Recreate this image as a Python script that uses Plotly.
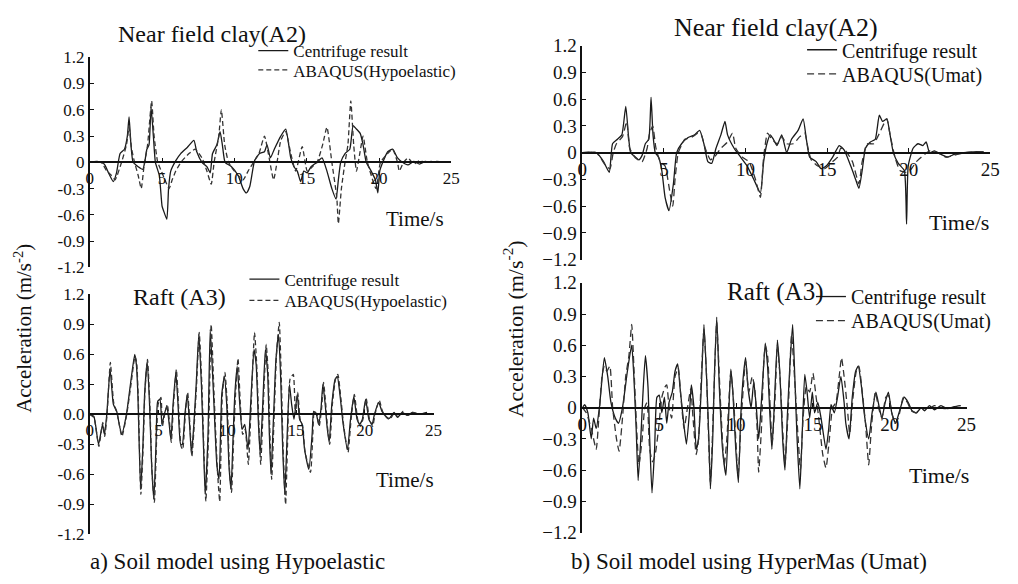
import plotly.graph_objects as go

W, H = 1018, 584
FONT = "Liberation Serif"

# ---------------- data (time s, acceleration m/s^2) ----------------
# a) top: Near field clay (A2) – centrifuge vs ABAQUS(Hypoelastic)
a_top_cent_t = [0, 0.5, 1.0, 1.3, 1.63, 1.85, 2.1, 2.4, 2.6, 2.72, 2.85, 3.0, 3.35, 3.67, 3.8, 3.95, 4.1, 4.24, 4.4, 4.54,
                4.81, 5.0, 5.1, 5.33, 5.45, 5.6, 5.95, 6.29, 6.74, 7.2, 7.4, 7.76, 8.1, 8.33, 8.49, 8.79, 9.01, 9.17, 9.36,
                9.8, 10.26, 10.6, 10.83, 11.06, 11.4, 11.74, 12.08, 12.26, 12.49, 12.76, 13.21, 13.55, 13.9, 14.12, 14.35,
                14.58, 14.8, 15.04, 15.3, 15.72, 16.06, 16.4, 16.74, 17.03, 17.19, 17.35, 17.65, 17.98, 18.21, 18.44, 18.7,
                18.9, 19.12, 19.46, 19.75, 19.92, 20.05, 20.26, 20.6, 20.94, 21.28, 21.62, 22.0, 22.4, 22.8, 23.2, 23.6,
                24.0, 24.5]
a_top_cent_v = [0, 0.01, -0.02, -0.12, -0.22, -0.12, 0.1, 0.15, 0.3, 0.52, 0.2, 0, -0.05, -0.08, 0, 0.15, 0.2, 0.63, 0.3, 0,
                -0.15, -0.5, -0.55, -0.65, -0.3, -0.1, 0.02, 0.1, 0.17, 0.25, 0.12, 0, -0.05, -0.12, 0.1, 0.2, 0.35, 0.2, 0,
                -0.05, -0.15, -0.3, -0.35, -0.28, 0.02, 0.1, 0.12, 0.2, 0.05, 0.15, 0.3, 0.38, 0.05, -0.05, -0.1,
                -0.22, -0.1, -0.12, -0.05, 0, 0.05, -0.1, -0.3, -0.42, -0.2, 0, 0.1, 0.15, 0.42, 0.38, 0.33,
                0.2, 0, -0.1, -0.2, -0.35, -0.1, 0, 0.12, 0.15, 0.05, 0, -0.03, 0.01, -0.02, 0.01, 0.0,
                0.01, 0.0]
a_top_hypo_t = [0, 0.8, 1.18, 1.5, 1.75, 2.2, 2.54, 2.72, 2.9, 3.1, 3.35, 3.56, 3.75, 4.0, 4.28, 4.45, 4.7, 4.95, 5.2, 5.49,
                5.7, 5.95, 6.3, 6.86, 7.3, 7.76, 8.1, 8.4, 8.6, 8.92, 9.1, 9.33, 9.6, 10.0, 10.6, 10.95, 11.33, 11.7, 12.08,
                12.35, 12.71, 12.95, 13.21, 13.55, 13.9, 14.24, 14.69, 15.04, 15.4, 15.72, 16.1, 16.4, 16.74, 17.08, 17.19,
                17.4, 17.65, 17.85, 18.05, 18.25, 18.44, 18.67, 18.9, 19.2, 19.8, 20.1, 20.6, 20.94, 21.28, 21.4, 21.7,
                22.0, 22.4, 22.8, 23.2, 23.6, 24.0, 24.5]
a_top_hypo_v = [0, 0.0, -0.1, -0.15, -0.2, 0, 0.2, 0.4, 0.15, 0, -0.15, -0.3, -0.05, 0.2, 0.7, 0.3, 0, -0.1, -0.2, -0.3,
                -0.2, -0.1, 0, 0.1, 0.15, 0.05, -0.1, -0.25, 0, 0.3, 0.6, 0.2, 0, -0.1, -0.2, -0.1, 0, 0.1, 0.3,
                0.1, -0.2, 0, 0.25, 0.35, 0.1, -0.1, 0.18, -0.1, -0.05, 0, 0.2, 0.4, 0, -0.4, -0.7,
                -0.3, 0, 0.2, 0.7, 0.2, -0.1, 0.1, 0.3, 0, -0.3, 0, 0.1, 0.15, 0, -0.1, 0,
                0.05, -0.02, 0.02, 0, 0.01, 0, 0.01]

# a) bottom: Raft (A3) – centrifuge vs ABAQUS(Hypoelastic)
a_bot_cent_t = [0, 0.3, 0.64, 0.93, 1.07, 1.24, 1.48, 1.72, 1.96, 2.32, 2.67, 2.96, 3.27, 3.39, 3.5, 3.7, 3.87, 3.99, 4.18,
                4.35, 4.5, 4.66, 4.82, 4.94, 5.11, 5.25, 5.42, 5.61, 5.78, 5.9, 6.06, 6.26, 6.42, 6.61, 6.73, 6.92, 7.09,
                7.26, 7.4, 7.57, 7.74, 7.93, 8.12, 8.29, 8.4, 8.6, 8.76, 9.0, 9.24, 9.4, 9.6, 9.79, 9.96, 10.12, 10.27,
                10.43, 10.55, 10.72, 10.91, 11.08, 11.27, 11.51, 11.7, 11.94, 12.1, 12.27, 12.39, 12.58, 12.77, 12.94,
                13.06, 13.18, 13.37, 13.54, 13.73, 13.9, 14.02, 14.18, 14.33, 14.52, 14.68, 14.85, 15.09, 15.26, 15.45,
                15.62, 15.93, 16.17, 16.28, 16.48, 16.64, 16.81, 16.95, 17.12, 17.24, 17.41, 17.6, 17.84, 18.0, 18.19,
                18.43, 18.74, 18.96, 19.2, 19.44, 19.63, 19.82, 20.06, 20.3, 20.53, 20.7, 21.01, 21.25, 21.54, 21.78,
                22.13, 22.37, 22.73, 23.09, 23.45, 23.93, 24.52]
a_bot_cent_v = [0, -0.02, -0.3, -0.1, -0.2, 0, 0.45, 0.1, 0.03, -0.2, 0, 0.3, 0.6, 0.5, 0.2, -0.75, -0.3, 0.2, 0.53,
                0.1, -0.5, -0.85, -0.3, 0.13, 0.15, -0.1, 0, 0.08, -0.1, -0.25, 0.1, 0.42, 0.1, -0.3, -0.3, 0.0, 0.2,
                -0.1, -0.4, -0.1, 0.3, 0.8, 0.3, -0.4, -0.8, -0.2, 0.85, 0.2, -0.5, -0.65, 0.2, 0.38, 0.1, -0.5, -0.75,
                -0.2, 0.2, 0.48, 0.1, -0.15, -0.1, -0.35, 0.1, 0.65, 0.5, -0.1, -0.4, 0.1, 0.65, 0.4,
                -0.2, -0.6, 0.0, 0.55, 0.8, 0.3, -0.3, -0.8, -0.3, 0.3, 0.1, -0.05, 0.2, -0.05, -0.1,
                -0.35, -0.55, -0.2, 0.03, 0, -0.1, 0.05, 0.3, 0.1, -0.1, -0.28, 0.1, 0.35, 0.38, 0.2,
                -0.1, -0.35, -0.05, 0.18, -0.05, -0.1, -0.05, 0.15, -0.05, -0.1, 0, 0.12, 0.03, -0.02, -0.04,
                0.02, -0.03, 0.02, -0.01, 0.02, 0.0, 0.02]
a_bot_hypo_t = [0, 0.3, 0.66, 0.95, 1.09, 1.26, 1.5, 1.74, 1.98, 2.34, 2.69, 2.98, 3.29, 3.41, 3.52, 3.72, 3.89, 4.01, 4.2,
                4.37, 4.52, 4.7, 4.85, 4.97, 5.18, 5.28, 5.45, 5.64, 5.8, 5.93, 6.09, 6.3, 6.45, 6.64, 6.76, 6.95, 7.12,
                7.29, 7.43, 7.6, 7.77, 7.96, 8.15, 8.32, 8.44, 8.64, 8.83, 9.04, 9.28, 9.45, 9.64, 9.83, 10.0, 10.16,
                10.31, 10.47, 10.6, 10.78, 10.95, 11.12, 11.3, 11.53, 11.74, 11.98, 12.14, 12.3, 12.43, 12.62, 12.83,
                12.98, 13.1, 13.23, 13.41, 13.58, 13.78, 13.94, 14.06, 14.24, 14.38, 14.56, 14.8, 14.95, 15.12, 15.3,
                15.48, 15.66, 16.05, 16.22, 16.32, 16.52, 16.68, 16.85, 17.0, 17.16, 17.28, 17.45, 17.64, 17.88,
                18.04, 18.23, 18.47, 18.78, 19.0, 19.24, 19.48, 19.67, 19.86, 20.1, 20.34, 20.57, 20.74, 21.05, 21.29,
                21.58, 21.82, 22.17, 22.41, 22.77, 23.13, 23.49, 23.97, 24.56]
a_bot_hypo_v = [0, -0.03, -0.32, -0.08, -0.22, 0, 0.52, 0.12, 0.02, -0.22, 0, 0.28, 0.58, 0.52, 0.2, -0.8, -0.3, 0.22, 0.55,
                0.1, -0.55, -0.88, -0.3, 0.1, 0.17, -0.12, 0, 0.1, -0.08, -0.28, 0.1, 0.45, 0.1, -0.32, -0.35, 0.0, 0.22,
                -0.12, -0.42, -0.1, 0.3, 0.82, 0.3, -0.45, -0.87, -0.2, 0.9, 0.2, -0.55, -0.87, 0.2, 0.42, 0.1, -0.55,
                -0.78, -0.2, 0.2, 0.56, 0.1, -0.2, -0.15, -0.5, 0.1, 0.82, 0.5, -0.1, -0.5, 0.1, 0.7, 0.4,
                -0.2, -0.65, 0.0, 0.6, 0.92, 0.3, -0.35, -0.9, -0.3, 0.35, 0.4, 0.0, 0.22, -0.05, -0.12,
                -0.38, -0.58, -0.2, 0.03, 0.0, -0.12, 0.05, 0.32, 0.1, -0.12, -0.3, 0.1, 0.36, 0.4, 0.2,
                -0.12, -0.38, -0.05, 0.2, -0.05, -0.12, -0.05, 0.16, -0.05, -0.12, 0, 0.14, 0.03, -0.03, -0.05,
                0.02, -0.03, 0.03, -0.01, 0.02, 0.0, 0.01]

# b) top: Near field clay (A2) – centrifuge vs ABAQUS(Umat)
b_top_cent_t = [0, 0.85, 1.3, 1.65, 1.85, 2.15, 2.42, 2.66, 2.82, 2.96, 3.26, 3.46, 3.66, 3.86, 4.07, 4.21, 4.33, 4.47, 4.67,
                4.87, 5.07, 5.31, 5.58, 5.78, 6.08, 6.48, 6.88, 7.19, 7.45, 7.69, 7.93, 8.19, 8.49, 8.74, 8.9, 9.3, 9.7,
                10.1, 10.51, 10.91, 11.11, 11.31, 11.51, 11.71, 11.92, 12.22, 12.52, 12.82, 13.22, 13.53, 13.73, 13.93,
                14.33, 14.63, 14.94, 15.34, 15.74, 16.04, 16.45, 16.75, 16.95, 17.15, 17.35, 17.65, 17.95, 18.2, 18.4,
                18.66, 18.86, 19.06, 19.36, 19.73, 19.87, 19.97, 20.27, 20.57, 20.87, 21.07, 21.28, 21.58, 21.98, 22.38,
                22.79, 23.39, 23.99, 24.6]
b_top_cent_v = [0, 0, -0.1, -0.22, 0.1, 0.15, 0.2, 0.52, 0.2, 0, -0.05, -0.08, -0.03, 0.1, 0.15, 0.62, 0.2, 0, -0.05,
                -0.2, -0.5, -0.65, -0.35, 0, 0.1, 0.17, 0.2, 0.25, 0.1, -0.1, -0.12, 0.05, 0.2, 0.35, 0.2, 0.05, -0.05,
                -0.15, -0.3, -0.45, -0.1, 0.1, 0.2, 0.15, 0.08, 0.2, 0, 0.15, 0.25, 0.38, 0.15, -0.05,
                -0.1, -0.18, -0.15, -0.05, 0.08, 0.03, -0.15, -0.3, -0.4, -0.2, 0.05, 0.12, 0.15, 0.42, 0.35,
                0.38, 0.2, 0, -0.12, -0.2, -0.8, -0.15, 0.05, 0.1, 0.08, 0.12, 0, 0.02, -0.02, -0.05,
                -0.02, 0, 0.01, 0.01]
b_top_umat_t = [0, 0.85, 1.45, 1.69, 1.89, 2.09, 2.46, 2.72, 2.9, 3.26, 3.66, 3.97, 4.1, 4.31, 4.51, 4.77, 5.07, 5.37, 5.54,
                5.68, 5.88, 6.28, 6.68, 7.09, 7.29, 7.53, 7.85, 8.09, 8.49, 8.9, 9.2, 9.4, 9.8, 10.21, 10.61, 10.91, 11.11,
                11.35, 11.61, 11.96, 12.22, 12.52, 12.92, 13.33, 13.63, 13.83, 14.03, 14.43, 14.84, 15.34, 15.64, 15.84,
                16.14, 16.55, 16.95, 17.15, 17.45, 17.85, 18.16, 18.66, 18.86, 19.16, 19.46, 19.87, 20.17, 20.47, 20.77,
                20.97, 21.28, 21.78, 22.28, 22.79, 23.39, 24.6]
b_top_umat_v = [0, 0, -0.15, -0.18, 0.0, 0.1, 0.18, 0.35, 0.05, -0.06, -0.1, 0.05, 0.2, 0.3, 0.05, -0.1, -0.15, -0.45, -0.6,
                -0.3, 0, 0.15, 0.17, 0.22, 0.2, 0.05, -0.08, -0.05, 0.05, 0.12, 0.22, 0.05, -0.05, -0.1, -0.3, -0.5, -0.05,
                0.22, 0.15, 0.1, 0.18, 0.1, 0.1, 0.18, 0.22, 0.05, -0.08, -0.15, -0.18, -0.1, -0.05, 0.05,
                0.02, -0.1, -0.35, -0.1, 0.1, 0.1, 0.2, 0.38, 0.2, -0.05, -0.2, -0.22, -0.18, -0.1, -0.05,
                -0.02, 0.02, 0, -0.05, -0.03, 0, 0.01]

# b) bottom: Raft (A3) – centrifuge vs ABAQUS(Umat)
b_bot_cent_t = [0, 0.15, 0.36, 0.58, 0.73, 0.9, 1.11, 1.43, 1.65, 1.86, 2.14, 2.35, 2.61, 2.93, 3.21, 3.35, 3.5, 3.63, 3.8,
                3.93, 4.1, 4.27, 4.38, 4.53, 4.7, 4.85, 5.0, 5.17, 5.34, 5.49, 5.64, 5.85, 6.03, 6.2, 6.35, 6.56, 6.77,
                6.99, 7.09, 7.26, 7.41, 7.56, 7.74, 7.91, 8.08, 8.23, 8.33, 8.48, 8.59, 8.74, 8.91, 9.12, 9.34, 9.51, 9.66,
                9.81, 9.98, 10.15, 10.3, 10.47, 10.62, 10.77, 10.98, 11.15, 11.32, 11.47, 11.58, 11.75, 11.9, 12.05,
                12.18, 12.33, 12.48, 12.69, 12.86, 13.03, 13.18, 13.33, 13.5, 13.68, 13.82, 13.97, 14.15, 14.29, 14.47,
                14.62, 14.79, 14.96, 15.11, 15.32, 15.53, 15.85, 16.03, 16.18, 16.39, 16.6, 16.82, 17.03, 17.14, 17.35,
                17.56, 17.78, 17.95, 18.16, 18.38, 18.63, 18.85, 19.1, 19.32, 19.49, 19.7, 19.91, 20.13, 20.38, 20.6,
                20.94, 21.2, 21.45, 21.73, 22.05, 22.26, 22.58, 22.9, 23.33, 23.76, 24.19, 24.62]
b_bot_cent_v = [0, 0.03, -0.05, -0.3, -0.1, -0.2, 0, 0.48, 0.3, 0.05, -0.1, -0.15, 0, 0.35, 0.6, 0.3, -0.2, -0.7, -0.3,
                0.1, 0.5, 0.2, -0.3, -0.82, -0.4, 0.1, 0.12, -0.05, 0.1, -0.15, 0.05, 0.15, 0.35, 0.42, 0.2, -0.1, -0.35,
                0.0, 0.22, 0.0, -0.4, -0.3, 0.2, 0.8, 0.3, -0.3, -0.78, -0.3, 0.3, 0.87, 0.2, -0.4, -0.65, -0.1, 0.37,
                0.1, -0.4, -0.72, -0.1, 0.3, 0.48, 0.2, 0.0, 0.25, 0.0, -0.3, -0.1, 0.3, 0.62, 0.4,
                0.0, -0.4, 0.0, 0.65, 0.3, -0.3, -0.6, -0.1, 0.4, 0.8, 0.3, -0.3, -0.78, -0.3, 0.32,
                0.15, -0.1, 0.15, -0.05, 0.05, -0.1, -0.4, -0.2, 0.03, -0.05, 0.1, 0.3, 0.05, -0.15, -0.3,
                0.1, 0.35, 0.4, 0.2, -0.1, -0.3, -0.05, 0.15, 0.0, -0.1, 0.05, 0.15, -0.05, -0.15, -0.05,
                0.1, 0.05, -0.03, -0.05, 0.0, -0.03, 0.02, -0.02, 0.02, -0.01, 0.01, 0.02]
b_bot_umat_t = [0, 0.26, 0.58, 0.9, 1.07, 1.28, 1.43, 1.6, 1.79, 1.97, 2.22, 2.39, 2.61, 2.82, 3.03, 3.21, 3.35, 3.5, 3.68,
                3.89, 4.06, 4.21, 4.38, 4.57, 4.74, 4.96, 5.17, 5.38, 5.49, 5.64, 5.81, 6.03, 6.24, 6.41, 6.62, 6.84, 7.05,
                7.2, 7.41, 7.56, 7.74, 7.91, 8.08, 8.33, 8.55, 8.74, 8.97, 9.23, 9.4, 9.66, 9.87, 10.13, 10.34, 10.62,
                10.83, 11.05, 11.2, 11.37, 11.47, 11.65, 11.79, 11.9, 12.05, 12.22, 12.35, 12.54, 12.69, 12.86, 13.03,
                13.18, 13.4, 13.61, 13.82, 14.04, 14.19, 14.36, 14.57, 14.79, 15.0, 15.21, 15.38, 15.64, 15.85, 16.07,
                16.28, 16.5, 16.71, 16.86, 17.03, 17.24, 17.39, 17.61, 17.82, 17.99, 18.21, 18.42, 18.63, 18.8, 19.06,
                19.27, 19.49, 19.74, 19.91, 20.13, 20.34, 20.56, 20.88, 21.15, 21.41, 21.73, 22.05, 22.48, 22.9, 23.54,
                24.19, 24.62]
b_bot_umat_v = [0, -0.05, -0.2, -0.4, -0.1, 0.3, 0.4, 0.35, 0.4, 0.0, -0.3, -0.42, -0.1, 0.3, 0.5, 0.8, 0.4, -0.1, -0.55,
                -0.3, 0.0, 0.05, -0.4, -0.52, -0.45, -0.2, 0.1, 0.2, 0.22, 0.0, -0.1, 0.3, 0.38, 0.1, -0.2, 0.0, 0.18,
                -0.1, -0.45, -0.3, 0.3, 0.75, 0.3, -0.72, 0.1, 0.82, 0.1, -0.55, -0.3, 0.35, 0.0, -0.65, -0.1, 0.45,
                0.15, 0.3, 0.2, -0.2, -0.62, -0.2, 0.4, 0.6, 0.5, 0.0, -0.35, 0.1, 0.6, 0.3, -0.2,
                -0.55, 0.0, 0.7, 0.25, -0.3, -0.6, -0.1, 0.2, 0.15, 0.33, 0.1, -0.1, -0.45, -0.58, -0.3,
                0.0, 0.05, 0.3, 0.48, 0.3, 0.0, -0.25, 0.1, 0.35, 0.4, 0.15, -0.15, -0.55, -0.2, 0.15,
                0.0, -0.1, 0.1, 0.12, -0.05, -0.15, -0.1, 0.1, 0.05, -0.03, -0.05, 0.0, -0.02, 0.02, -0.01,
                0.0, 0.01]

y_ticks = [-1.2, -0.9, -0.6, -0.3, 0, 0.3, 0.6, 0.9, 1.2]
y_text_a_top = ["-1.2", "-0.9", "-0.6", "-0.3", "0", "0.3", "0.6", "0.9", "1.2"]
y_text_a_bot = ["-1.2", "-0.9", "-0.6", "-0.3", "0.0", "0.3", "0.6", "0.9", "1.2"]
y_text_b = ["\u22121.2", "\u22120.9", "\u22120.6", "\u22120.3", "0", "0.3", "0.6", "0.9", "1.2"]
x_ticks = [0, 5, 10, 15, 20, 25]
x_text = ["0", "5", "10", "15", "20", "25"]

# ---------------- layout helpers ----------------
def fx(px):
    return px / W

def fy(py):
    return 1 - py / H

# panel pixel boxes: (x0, x1, ytop, ybottom)
panels = {
    1: (86, 453, 49, 267),
    2: (86, 435, 295, 544),
    3: (586, 1000, 37, 259),
    4: (586, 976, 283, 542),
}

fig = go.Figure()

# (panel, t, v, name, dash, legend key, legend x px, legend row-centre px, font)
series = [
    (1, a_top_cent_t, a_top_cent_v, "Centrifuge result", "solid", "legend", 252, 52, 17),
    (1, a_top_hypo_t, a_top_hypo_v, "ABAQUS(Hypoelastic)", "5px,3px", "legend2", 252, 72, 17),
    (2, a_bot_cent_t, a_bot_cent_v, "Centrifuge result", "solid", "legend3", 243, 289, 17),
    (2, a_bot_hypo_t, a_bot_hypo_v, "ABAQUS(Hypoelastic)", "5px,3px", "legend4", 243, 311, 17),
    (3, b_top_cent_t, b_top_cent_v, "Centrifuge result", "solid", "legend5", 809, 51, 20),
    (3, b_top_umat_t, b_top_umat_v, "ABAQUS(Umat)", "7px,4px", "legend6", 809, 76, 20),
    (4, b_bot_cent_t, b_bot_cent_v, "Centrifuge result", "solid", "legend7", 818, 307, 20),
    (4, b_bot_umat_t, b_bot_umat_v, "ABAQUS(Umat)", "7px,4px", "legend8", 818, 332, 20),
]

layout = dict(
    width=W, height=H, margin=dict(l=0, r=0, t=0, b=0),
    paper_bgcolor="white", plot_bgcolor="rgba(0,0,0,0)",
    font=dict(family=FONT, color="#111111"),
    showlegend=True,
)

for p, t, v, name, dash, leg, lx, lrow, fs in series:
    suffix = "" if p == 1 else str(p)
    solid = dash == "solid"
    fig.add_trace(go.Scatter(
        x=t, y=v, mode="lines", name=name,
        line=dict(color="#1a1a1a" if solid else "#333333", width=1.3, dash=dash,
                  shape="spline", smoothing=0.5),
        xaxis="x" + suffix, yaxis="y" + suffix, legend=leg,
    ))
    offset = 28 if fs <= 17 else 30
    layout[leg] = dict(
        x=fx(lx), y=fy(lrow - offset), xanchor="left", yanchor="top",
        bgcolor="rgba(0,0,0,0)", borderwidth=0,
        font=dict(size=fs, family=FONT, color="#111111"),
        itemwidth=30,
    )

tick_font = {1: 17, 2: 17, 3: 19, 4: 19}
y_texts = {1: y_text_a_top, 2: y_text_a_bot, 3: y_text_b, 4: y_text_b}
for p, (x0, x1, yt, yb) in panels.items():
    suffix = "" if p == 1 else str(p)
    ydom = [fy(yb), fy(yt)]
    layout["xaxis" + suffix] = dict(
        domain=[fx(x0), fx(x1)], range=[0, 25], anchor="free",
        position=(ydom[0] + ydom[1]) / 2,
        showline=True, linecolor="#111111", linewidth=1.6,
        tickmode="array", tickvals=x_ticks, ticktext=x_text,
        ticks="inside", ticklen=4, tickcolor="#111111",
        tickfont=dict(size=tick_font[p], family=FONT), showgrid=False, zeroline=False,
    )
    layout["yaxis" + suffix] = dict(
        domain=ydom, range=[-1.2, 1.2], anchor="x" + suffix,
        showline=True, linecolor="#111111", linewidth=1.6,
        tickmode="array", tickvals=y_ticks, ticktext=y_texts[p],
        ticks="inside", ticklen=4, tickcolor="#111111",
        tickfont=dict(size=tick_font[p], family=FONT), showgrid=False, zeroline=False,
    )

fig.update_layout(**layout)

# text annotations
texts = [
    ("Near field clay(A2)", 210, 25, 24, 0),
    ("Near field clay(A2)", 783, 18, 26, 0),
    ("Raft (A3)", 177, 298, 24, 0),
    ("Raft (A3)", 782, 293, 25, 0),
    ("Time/s", 416, 217, 21, 0),
    ("Time/s", 406, 488, 21, 0),
    ("Time/s", 968, 220, 22, 0),
    ("Time/s", 948, 483, 22, 0),
    ("Acceleration (m/s<sup>-2</sup>)", 18, 330, 21, -90),
    ("Acceleration (m/s<sup>-2</sup>)", 516, 331, 22, -90),
    ("a) Soil model using Hypoelastic", 236, 572, 23, 0),
    ("b) Soil model using HyperMas (Umat)", 755, 572, 23, 0),
]
for txt, x, y, fs, ang in texts:
    fig.add_annotation(
        text=txt, x=fx(x), y=fy(y), xref="paper", yref="paper",
        xanchor="center", yanchor="middle", showarrow=False, textangle=ang,
        font=dict(size=fs, family=FONT, color="#111111"),
    )

fig.write_html("out.html")
